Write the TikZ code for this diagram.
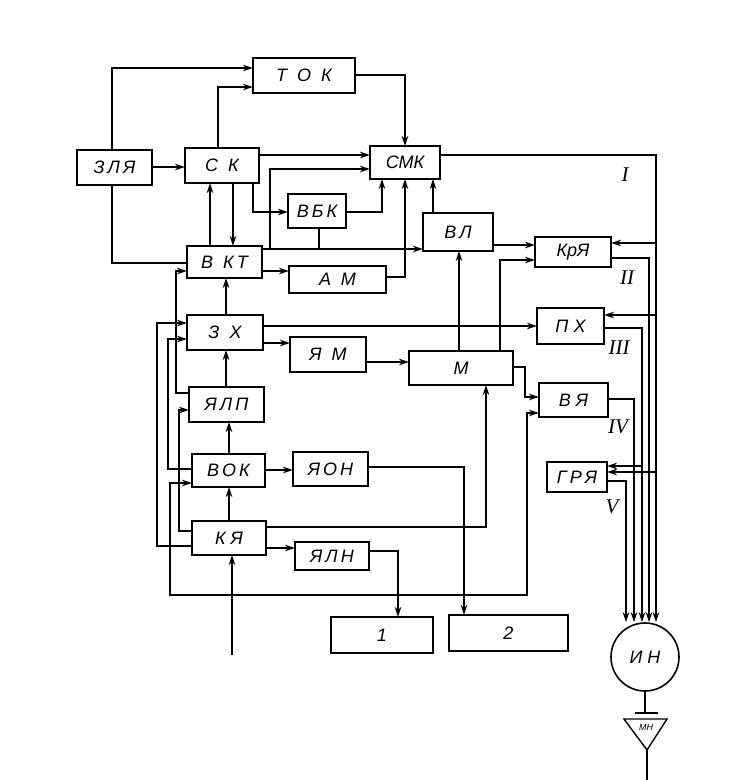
\documentclass[tikz,border=0pt]{standalone}
\usepackage{fontspec}
\setmainfont{Liberation Sans}
\newfontfamily\romfont{Liberation Serif}
\usetikzlibrary{arrows.meta,calc}
\tikzset{
  box/.style={draw, line width=1.6pt, inner sep=0pt, outer sep=0pt, font=\fontsize{18}{20}\selectfont\itshape},
  ln/.style={line width=1.4pt},
  arr/.style={ln, -{Stealth[length=10pt,width=6.5pt]}},
  dbl/.style={ln, {Stealth[length=10pt,width=6.5pt]}-{Stealth[length=10pt,width=6.5pt]}},
  rom/.style={font=\romfont\fontsize{21}{23}\selectfont\itshape}
}
\newcommand\bx[6]{\node[box, minimum width={(#4-#2)*1pt}, minimum height={(#5-#3)*1pt}] (#1) at ({(#2+#4)/2},{(#3+#5)/2}) {#6};}
\begin{document}
\begin{tikzpicture}[x=1pt,y=-1pt]
\fill[white] (0,0) rectangle (754,780);
\useasboundingbox (0,0) rectangle (754,780);
% boxes
\bx{zly}{77}{150}{152}{185}{З\,Л\,Я}
\bx{sk}{185}{148}{259}{183}{С\ \ К}
\bx{tok}{253}{58}{355}{93}{Т\ \ О\ \ К}
\bx{smk}{370}{146}{440}{179}{СМК}
\bx{vbk}{288}{194}{346}{228}{В\,Б\,К}
\bx{vkt}{187}{246}{262}{278}{В\ \ К\,Т}
\bx{am}{289}{266}{386}{293}{А\ \ М}
\bx{vl}{423}{213}{493}{251}{В\,Л}
\bx{krya}{535}{237}{611}{267}{КрЯ}
\bx{zx}{187}{315}{263}{350}{З\ \ Х}
\bx{yam}{290}{337}{366}{372}{Я\ \ М}
\bx{m}{409}{351}{513}{385}{М}
\bx{px}{537}{308}{604}{344}{П\ Х}
\bx{vya}{539}{383}{608}{417}{В\ Я}
\bx{grya}{547}{462}{607}{492}{Г\,Р\,Я}
\bx{yalp}{189}{387}{264}{422}{Я\,Л\,П}
\bx{vok}{192}{454}{265}{487}{В\,О\,К}
\bx{yaon}{293}{452}{368}{486}{Я\,О\,Н}
\bx{kya}{192}{521}{266}{555}{К\ Я}
\bx{yaln}{295}{542}{369}{570}{Я\,Л\,Н}
\bx{b1}{331}{617}{433}{653}{1}
\bx{b2}{449}{615}{568}{651}{2}
\node[circle, draw, line width=1.6pt, minimum size=68pt, inner sep=0pt, font=\fontsize{18}{20}\selectfont\itshape] (inn) at (645,657) {И\ Н};
% roman numerals
\node[rom] (r1) at (625,175) {I};
\node[rom] (r2) at (627,278) {II};
\node[rom] (r3) at (619,348) {III};
\node[rom] (r4) at (618,427) {IV};
\node[rom] (r5) at (612,507) {V};
% top connectors
\draw[arr] (zly.east |- 0,167) -- (sk.west |- 0,167);
\draw[arr] (zly.north -| 112,0) |- (tok.west |- 0,68);
\draw[arr] (sk.north -| 218,0) |- (tok.west |- 0,87);
\draw[arr] (tok.east |- 0,75) -| (smk.north -| 405,0);
\draw[arr] (sk.east |- 0,155) -- (smk.west |- 0,155);
\coordinate (j1) at (270,249);
\draw[arr] (vkt.east |- 0,249) -- (vl.west |- 0,249);
\draw[arr] (j1) |- (smk.west |- 0,169);
\draw[ln] (vbk.south -| 319,0) -- (319,249);
\draw[arr] (vkt.north -| 210,0) -- (sk.south -| 210,0);
\draw[arr] (sk.south -| 233,0) -- (vkt.north -| 233,0);
\draw[arr] (sk.south -| 253,0) |- (vbk.west |- 0,212);
\draw[arr] (vbk.east |- 0,212) -| (smk.south -| 382,0);
\draw[arr] (am.east |- 0,277) -| (smk.south -| 405,0);
\draw[arr] (vl.north -| 433,0) -- (smk.south -| 433,0);
\draw[arr] (vkt.east |- 0,271) -- (am.west |- 0,271);
\draw[ln] (zly.south -| 112,0) |- (vkt.west |- 0,263);
% left column
\draw[arr] (yalp.west |- 0,393) -| (176,271) -- (vkt.west |- 0,271);
\draw[arr] (kya.west |- 0,546) -| (157,323) -- (zx.west |- 0,323);
\draw[arr] (vok.west |- 0,469) -| (168,339) -- (zx.west |- 0,339);
\draw[arr] (kya.west |- 0,531) -| (179,410) -- (yalp.west |- 0,410);
\draw[arr] (zx.north -| 226,0) -- (vkt.south -| 226,0);
\draw[arr] (yalp.north -| 226,0) -- (zx.south -| 226,0);
\draw[arr] (vok.north -| 229,0) -- (yalp.south -| 229,0);
\draw[arr] (kya.north -| 229,0) -- (vok.south -| 229,0);
\coordinate (inp) at (232,655);
\draw[arr] (inp) -- (kya.south -| 232,0);
\draw[dbl] (vok.west |- 0,483) -| (170,595) -| (527,413) -- (vya.west |- 0,413);
% middle
\draw[arr] (vok.east |- 0,470) -- (yaon.west |- 0,470);
\draw[arr] (kya.east |- 0,548) -- (yaln.west |- 0,548);
\draw[arr] (yaln.east |- 0,551) -| (b1.north -| 398,0);
\draw[arr] (yaon.east |- 0,467) -| (b2.north -| 464,0);
\draw[arr] (zx.east |- 0,343) -- (yam.west |- 0,343);
\draw[arr] (zx.east |- 0,326) -- (px.west |- 0,326);
\draw[arr] (yam.east |- 0,362) -- (m.west |- 0,362);
\draw[arr] (m.north -| 459,0) -- (vl.south -| 459,0);
\draw[arr] (m.north -| 500,0) |- (krya.west |- 0,260);
\draw[arr] (vl.east |- 0,245) -- (krya.west |- 0,245);
\draw[arr] (m.east |- 0,367) -| (525,397) -- (vya.west |- 0,397);
\draw[arr] (kya.east |- 0,527) -| (m.south -| 486,0);
% right side
\draw[arr] (smk.east |- 0,155) -| (inn.north -| 656,0);
\draw[arr] (656,243) -- (krya.east |- 0,243);
\draw[arr] (656,315) -- (px.east |- 0,315);
\draw[arr] (656,472) -- (grya.east |- 0,472);
\draw[arr] (krya.east |- 0,258) -| (inn.north -| 649,0);
\draw[arr] (px.east |- 0,328) -| (inn.north -| 642,0);
\draw[arr] (vya.east |- 0,399) -| (inn.north -| 634,0);
\draw[arr] (grya.east |- 0,481) -| (inn.north -| 626,0);
\draw[arr] (642,466) -- (grya.east |- 0,466);
% output
\draw[ln] (inn.south) -- (inn.south |- 0,713);
\draw[ln] (635,713) -- (658,713);
\draw[ln] (624,719) -- (667,719) -- (647,750) -- cycle;
\node[font=\fontsize{9}{10}\selectfont\itshape] (mn) at (646,727) {МН};
\coordinate (apex) at (647,750);
\draw[ln] (apex) -- (647,780);
\end{tikzpicture}
\end{document}
